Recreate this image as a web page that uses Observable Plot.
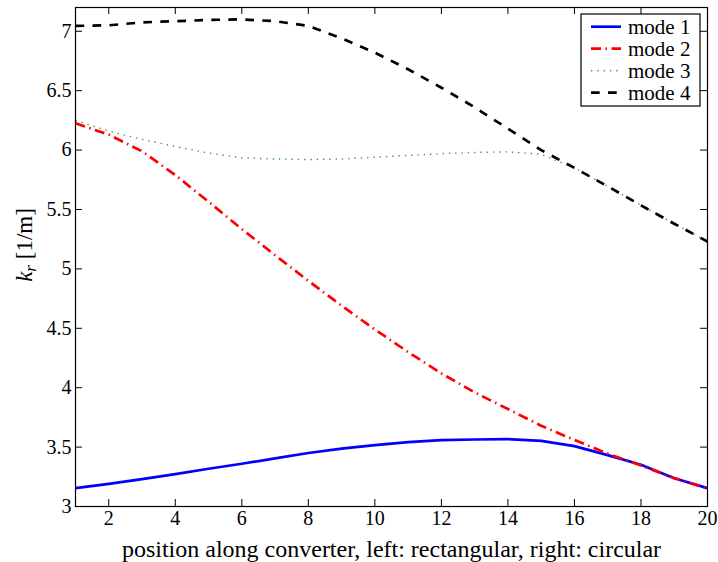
<!DOCTYPE html>
<html>
<head>
<meta charset="utf-8">
<script src="https://cdn.jsdelivr.net/npm/d3@7"></script>
<script src="https://cdn.jsdelivr.net/npm/@observablehq/plot@0.6"></script>
<style>
  html, body { margin: 0; padding: 0; background: #fff; }
  #chart { position: relative; width: 718px; height: 562px; }
  #chart svg text { font-family: "Liberation Serif", "Times New Roman", serif; }
</style>
</head>
<body>
<div id="chart"></div>
<script>
// ---- data ----
const positions = [1,2,3,4,5,6,7,8,9,10,11,12,13,14,15,16,17,18,19,20];
const mode1 = [3.155,3.19,3.23,3.272,3.318,3.36,3.405,3.45,3.487,3.517,3.542,3.558,3.564,3.567,3.553,3.508,3.432,3.352,3.238,3.155];
const mode2 = [6.225,6.13,5.99,5.79,5.565,5.335,5.115,4.9,4.69,4.49,4.3,4.12,3.96,3.82,3.68,3.56,3.445,3.345,3.24,3.15];
const mode3 = [6.25,6.16,6.09,6.03,5.975,5.935,5.925,5.92,5.925,5.94,5.955,5.97,5.98,5.985,5.965,5.85,5.695,5.535,5.38,5.23];
const mode4 = [7.045,7.05,7.075,7.085,7.095,7.1,7.085,7.045,6.94,6.82,6.68,6.525,6.36,6.18,6.0,5.85,5.695,5.535,5.38,5.23];
const seriesNames = ["mode 1","mode 2","mode 3","mode 4"];
const seriesValues = [mode1, mode2, mode3, mode4];
const xTicks = [2,4,6,8,10,12,14,16,18,20];
const yTicks = [3,3.5,4,4.5,5,5.5,6,6.5,7];
const xLabel = "position along converter, left: rectangular, right: circular";

// ---- styles ----
const styles = [
  {stroke: "#0000ff", strokeWidth: 2.7, dash: null},
  {stroke: "#ff0000", strokeWidth: 2.7, dash: "10,4.5,1.5,4.5"},
  {stroke: "#2f9a2f", strokeWidth: 1.4, dash: "1.3,5"},
  {stroke: "#000000", strokeWidth: 2.7, dash: "8.7,8.3"}
];

const rows = [];
seriesNames.forEach((name, i) => {
  seriesValues[i].forEach((v, j) => rows.push({series: name, x: positions[j], y: v}));
});

const W = 718, H = 562;
const mL = 75, mR = 11, mT = 7, mB = 56;
const innerH = H - mT - mB, innerW = W - mL - mR;
const font = "Liberation Serif, Times New Roman, serif";

const lineMarks = seriesNames.map((name, i) =>
  Plot.line(rows.filter(d => d.series === name), {
    x: "x", y: "y",
    stroke: styles[i].stroke,
    strokeWidth: styles[i].strokeWidth,
    strokeDasharray: styles[i].dash,
    strokeLinejoin: "round",
    strokeLinecap: "butt"
  })
);

const chart = Plot.plot({
  width: W, height: H,
  marginLeft: mL, marginRight: mR, marginTop: mT, marginBottom: mB,
  style: {fontFamily: font, fontSize: "20px", background: "#fff", color: "#000"},
  x: {domain: [1, 20], label: null},
  y: {domain: [3, 7.2], label: null},
  marks: [
    ...lineMarks,
    // inward ticks
    Plot.tickX(xTicks, {x: d => d, insetTop: innerH - 7, stroke: "#000", strokeWidth: 1}),
    Plot.tickX(xTicks, {x: d => d, insetBottom: innerH - 7, stroke: "#000", strokeWidth: 1}),
    Plot.tickY(yTicks, {y: d => d, insetRight: innerW - 7, stroke: "#000", strokeWidth: 1}),
    Plot.tickY(yTicks, {y: d => d, insetLeft: innerW - 7, stroke: "#000", strokeWidth: 1}),
    Plot.axisX(xTicks, {anchor: "bottom", tickSize: 0, tickPadding: 4, fontSize: 20, fontFamily: font,
      label: null}),
    Plot.axisY(yTicks, {anchor: "left", tickSize: 0, tickPadding: 4, fontSize: 20, fontFamily: font, label: null,
      tickFormat: d => String(d)}),
    Plot.text([xLabel], {text: d => d, frameAnchor: "bottom", lineAnchor: "bottom", dy: 50,
      fontSize: 24, fontFamily: font, fill: "#000"}),
    Plot.frame({stroke: "#000", strokeWidth: 1.2})
  ]
});

document.getElementById("chart").appendChild(chart);

// y-axis label with italic k and subscript r
const svg = d3.select(chart);
const yl = svg.append("text")
  .attr("transform", `translate(32, 245) rotate(-90)`)
  .attr("text-anchor", "middle")
  .attr("font-family", font)
  .attr("font-size", 23)
  .attr("fill", "#000");
yl.append("tspan").attr("font-style", "italic").text("k");
yl.append("tspan").attr("font-style", "italic").attr("font-size", 17).attr("dy", 4).text("r");
yl.append("tspan").attr("dy", -4).text(" [1/m]");

// legend box (inside plot, top right)
const lg = svg.append("g").attr("transform", "translate(581, 14)");
lg.append("rect").attr("width", 119).attr("height", 92)
  .attr("fill", "#fff").attr("stroke", "#000").attr("stroke-width", 1.2);
seriesNames.forEach((name, i) => {
  const cy = 12.7 + i * 22;
  lg.append("line").attr("x1", 10).attr("x2", 40).attr("y1", cy).attr("y2", cy)
    .attr("stroke", styles[i].stroke).attr("stroke-width", styles[i].strokeWidth)
    .attr("stroke-dasharray", styles[i].dash);
  lg.append("text").attr("x", 47).attr("y", cy + 7.3)
    .attr("text-anchor", "start")
    .attr("font-family", font).attr("font-size", 21).attr("fill", "#000").text(name);
});
</script>
</body>
</html>
